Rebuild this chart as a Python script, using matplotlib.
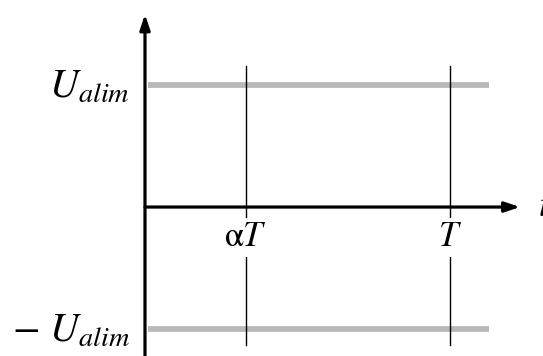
import matplotlib
matplotlib.use("Agg")
import matplotlib.pyplot as plt

plt.rcParams["mathtext.fontset"] = "stix"
plt.rcParams["font.family"] = "STIXGeneral"

# levels of the square signal and the time marks
levels = [1.0, -1.0]
level_labels = [r"$U_{alim}$", r"$-\ U_{alim}$"]
alpha = 0.33
T = 1.0
times = [alpha * T, T]
time_labels = [r"$\mathrm{\alpha}T$", r"$T$"]

fig = plt.figure(figsize=(5.43, 3.56), dpi=100)
ax = fig.add_axes([0, 0, 1, 1])
ax.set_xlim(-0.4754, 1.305)
ax.set_ylim(-1.221, 1.697)
ax.axis("off")

# supply levels (gray)
for lv, lab in zip(levels, level_labels):
    ax.plot([0.01, 1.128 * T], [lv, lv], color="#b9b9b9", lw=4.2,
            solid_capstyle="butt", zorder=1)
    ax.text(-0.05, lv - 0.02, lab, fontsize=29, ha="right", va="center")

# time marks
for t, lab in zip(times, time_labels):
    ax.plot([t, t], [1.16, -1.13], color="black", lw=1.0, zorder=2)
    ax.text(t, -0.25, lab, fontsize=25, ha="center", va="center", zorder=3,
            bbox=dict(boxstyle="square,pad=0.1", fc="white", ec="none"))

# axes with arrows
arrow = dict(arrowstyle="-|>,head_length=0.9,head_width=0.3", lw=2.3,
             color="black", shrinkA=0, shrinkB=0)
ax.annotate("", xy=(1.23, 0), xytext=(0, 0), arrowprops=arrow, zorder=4)
ax.annotate("", xy=(0, 1.58), xytext=(0, -1.25), arrowprops=arrow, zorder=4)
ax.text(1.289, 0, r"$t$", fontsize=26, ha="left", va="center")

fig.savefig("out.png", dpi=100)
